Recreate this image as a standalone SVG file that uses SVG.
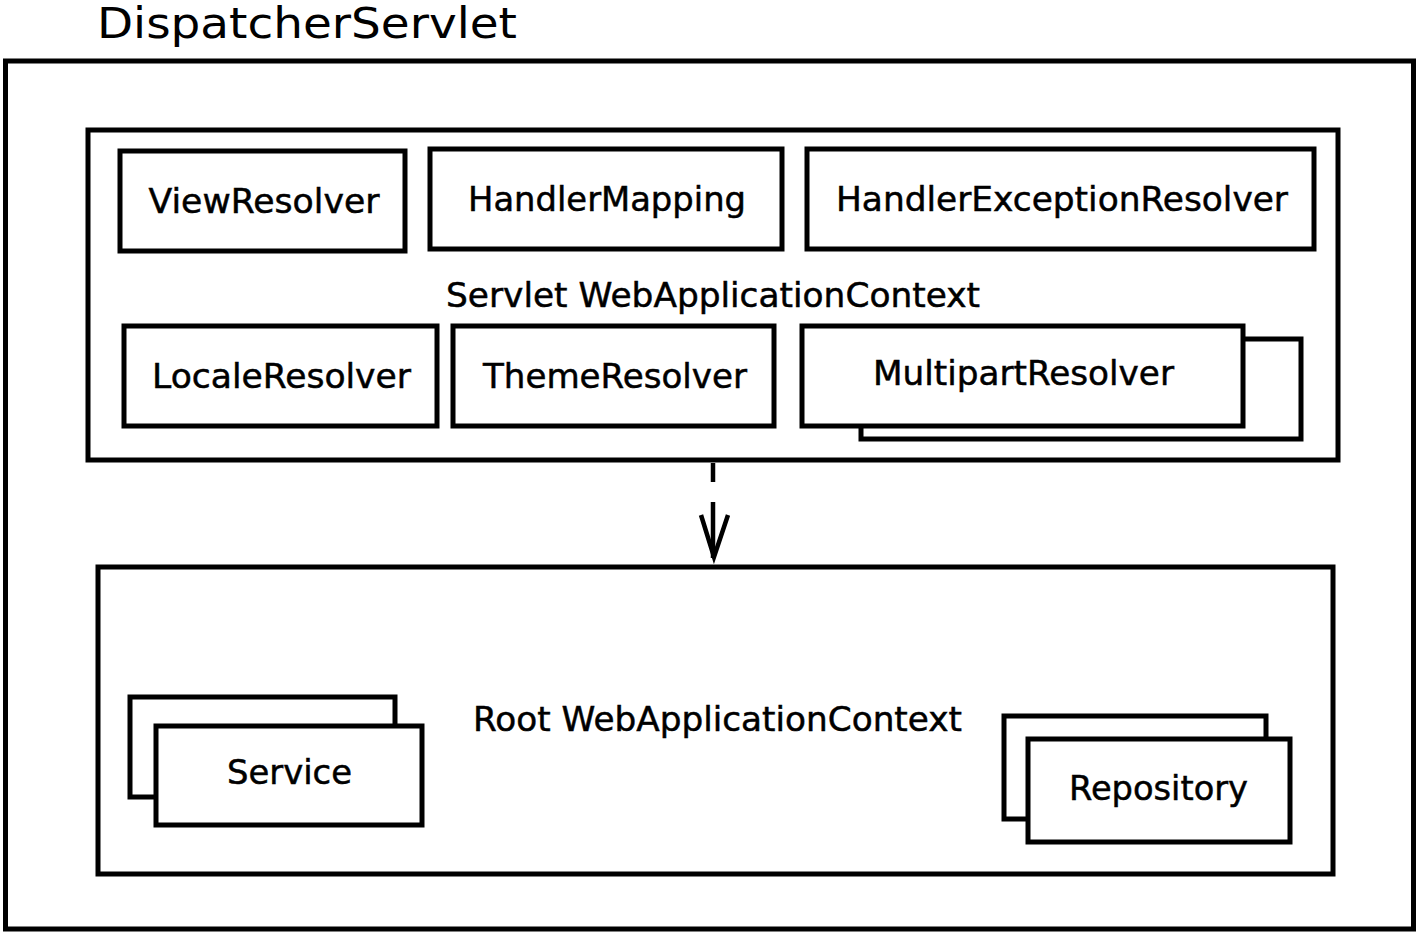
<svg xmlns="http://www.w3.org/2000/svg" width="1419" height="935" viewBox="0 0 1419 935">
<style>
.b{fill:#fff;stroke:#000;stroke-width:5}
.t{font-family:"DejaVu Sans",Verdana,sans-serif;font-size:34px;fill:#000;stroke:#000;stroke-width:0.5;text-anchor:middle}
.c{fill:none;stroke:#000;stroke-width:4.5}
</style>
<rect width="1419" height="935" fill="#fff"/>
<g id="dispatcher">
<rect class="b" x="5.5" y="61" width="1408" height="868"/>
<text x="97" y="38" textLength="420" lengthAdjust="spacingAndGlyphs" style="font-family:'DejaVu Sans',Verdana,sans-serif;font-size:43px;fill:#000">DispatcherServlet</text>
</g>
<g id="servletContext">
<rect class="b" x="88" y="130" width="1250" height="330"/>
<text class="t" x="713" y="307" textLength="534" lengthAdjust="spacingAndGlyphs">Servlet WebApplicationContext</text>
</g>
<g id="viewResolver">
<rect class="b" x="120" y="151" width="285" height="100"/>
<text class="t" x="264" y="213" textLength="231" lengthAdjust="spacingAndGlyphs">ViewResolver</text>
</g>
<g id="handlerMapping">
<rect class="b" x="430" y="149" width="352" height="100"/>
<text class="t" x="607" y="211" textLength="278" lengthAdjust="spacingAndGlyphs">HandlerMapping</text>
</g>
<g id="handlerExceptionResolver">
<rect class="b" x="807" y="149" width="507" height="100"/>
<text class="t" x="1062" y="211" textLength="452" lengthAdjust="spacingAndGlyphs">HandlerExceptionResolver</text>
</g>
<g id="localeResolver">
<rect class="b" x="124" y="326" width="313" height="100"/>
<text class="t" x="281.5" y="388" textLength="259" lengthAdjust="spacingAndGlyphs">LocaleResolver</text>
</g>
<g id="themeResolver">
<rect class="b" x="453" y="326" width="321" height="100"/>
<text class="t" x="615" y="388" textLength="264" lengthAdjust="spacingAndGlyphs">ThemeResolver</text>
</g>
<g id="multipartResolver">
<rect class="b" x="861" y="339" width="440" height="100"/>
<rect class="b" x="802" y="326" width="441" height="100"/>
<text class="t" x="1023.5" y="385" textLength="301" lengthAdjust="spacingAndGlyphs">MultipartResolver</text>
</g>
<g id="connectors">
<path class="c" d="M713 463V482M713 502V558"/>
<path class="c" d="M701 515L714 557L728 515"/>
</g>
<g id="rootContext">
<rect class="b" x="98" y="567" width="1235" height="307"/>
<text class="t" x="717.5" y="731" textLength="489" lengthAdjust="spacingAndGlyphs">Root WebApplicationContext</text>
</g>
<g id="service">
<rect class="b" x="130" y="697" width="265" height="100"/>
<rect class="b" x="156" y="726" width="266" height="99"/>
<text class="t" x="289.5" y="784" textLength="125" lengthAdjust="spacingAndGlyphs">Service</text>
</g>
<g id="repository">
<rect class="b" x="1004" y="716" width="262" height="103"/>
<rect class="b" x="1028" y="739" width="262" height="103"/>
<text class="t" x="1158.5" y="800" textLength="179" lengthAdjust="spacingAndGlyphs">Repository</text>
</g>
</svg>
